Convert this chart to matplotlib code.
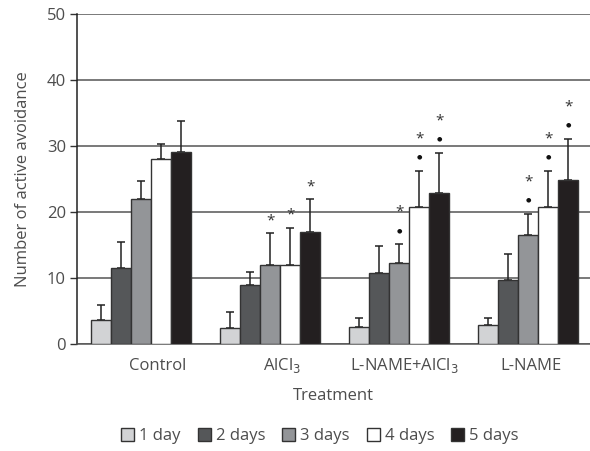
import matplotlib
matplotlib.use('Agg')
import matplotlib.pyplot as plt
from matplotlib.patches import Patch
import numpy as np

plt.rcParams['font.family'] = ['Open Sans', 'DejaVu Sans']

groups = ['Control', 'AlCl$_3$', 'L-NAME+AlCl$_3$', 'L-NAME']
series = ['1 day', '2 days', '3 days', '4 days', '5 days']

day1 = [3.7, 2.5, 2.6, 2.9]
day2 = [11.5, 8.9, 10.8, 9.7]
day3 = [22.0, 11.9, 12.3, 16.5]
day4 = [28.1, 11.9, 20.7, 20.7]
day5 = [29.1, 16.9, 22.9, 24.8]

err1 = [2.2, 2.4, 1.3, 1.0]
err2 = [4.0, 2.0, 4.0, 3.9]
err3 = [2.7, 4.9, 2.8, 3.2]
err4 = [2.2, 5.7, 5.5, 5.5]
err5 = [4.7, 5.0, 6.0, 6.3]

# significance marks: (series index, group index)
stars = [(2, 1), (3, 1), (4, 1), (2, 2), (3, 2), (4, 2), (2, 3), (3, 3), (4, 3)]
dots = [(2, 2), (3, 2), (4, 2), (2, 3), (3, 3), (4, 3)]

values = [day1, day2, day3, day4, day5]
errors = [err1, err2, err3, err4, err5]
colors = ['#d2d3d5', '#555759', '#939598', '#ffffff', '#231f20']
label_shift = [0.13, 0.09, 0.04, 0.02]

fig = plt.figure(figsize=(5.9, 4.51), dpi=100)
ax = fig.add_axes([77 / 590, 1 - 344 / 451, 1 - 77 / 590, 330 / 451])

x = np.arange(len(groups))
w = 0.155
tops = {}
for i, (vals, errs) in enumerate(zip(values, errors)):
    pos = x + (i - 2) * w
    ax.bar(pos, vals, w, color=colors[i], edgecolor='#333333', linewidth=1.0, zorder=3)
    ax.errorbar(pos, vals, yerr=[np.zeros(len(errs)), errs], fmt='none',
                ecolor='#222222', elinewidth=1.1, capsize=3.2, capthick=1.1, zorder=2)
    for g in range(len(groups)):
        tops[(i, g)] = (pos[g], vals[g] + errs[g])

for key in stars:
    px, py = tops[key]
    off = 23 if key in dots else 9
    ax.annotate('*', (px, py), xytext=(0, off), textcoords='offset points',
                ha='center', va='center', fontsize=11, color='#333333')
for key in dots:
    px, py = tops[key]
    ax.annotate('\u25cf', (px, py), xytext=(0, 10), textcoords='offset points',
                ha='center', va='center', fontsize=4.5, color='#111111',
                family='DejaVu Sans')

ax.set_xlim(-0.497, 3.48)
ax.set_ylim(0, 50)
ax.set_yticks(np.arange(0, 51, 10))
ax.grid(axis='y', color='#555555', linewidth=1.1, zorder=0)
ax.set_axisbelow(True)

ax.set_xticks(x)
ax.set_xticklabels([])
ax.tick_params(axis='x', length=0)
for g, name in enumerate(groups):
    ax.text(x[g] + label_shift[g], -3.3, name, ha='center', va='center',
            fontsize=12, color='#4d4d4d')

ax.tick_params(axis='y', direction='out', length=5, width=1, color='#333333',
               labelsize=12, labelcolor='#4d4d4d', pad=3)
for s in ['top', 'right']:
    ax.spines[s].set_visible(False)
ax.spines['left'].set_color('#222222')
ax.spines['left'].set_linewidth(1.1)
ax.spines['bottom'].set_color('#555555')
ax.spines['bottom'].set_linewidth(1.1)

ax.set_xlabel('Treatment', fontsize=12, color='#4d4d4d', labelpad=28)
ax.set_ylabel('Number of active avoidance', fontsize=12, color='#4d4d4d', labelpad=11)

handles = [Patch(facecolor=c, edgecolor='#333333', linewidth=1.0) for c in colors]
fig.legend(handles, series, loc='center', bbox_to_anchor=(320 / 590, 1 - 436 / 451),
           ncol=5, frameon=False, fontsize=12, handlelength=0.8, handleheight=0.8,
           handletextpad=0.3, columnspacing=1.0, labelcolor='#4d4d4d')

fig.savefig('out.png', dpi=100)
